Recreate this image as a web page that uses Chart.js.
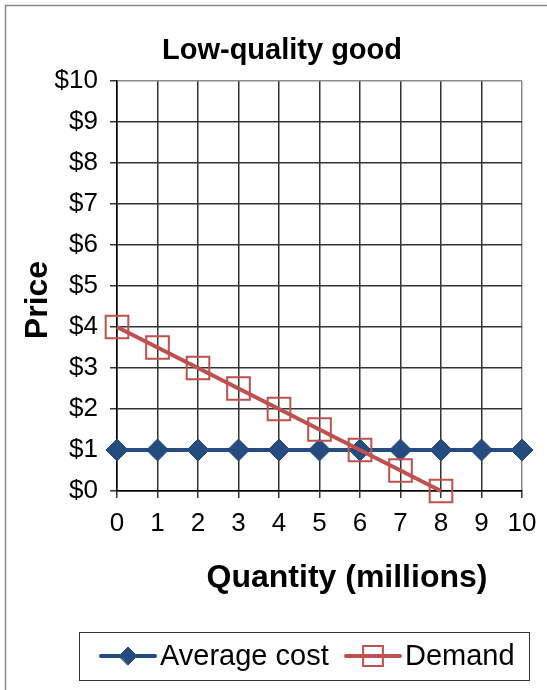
<!DOCTYPE html>
<html>
<head>
<meta charset="utf-8">
<script src="https://cdn.jsdelivr.net/npm/chart.js@4"></script>
<style>
  html, body { margin: 0; padding: 0; background: #fff; }
  canvas { display: block; }
</style>
</head>
<body>
<canvas id="chart" width="547" height="690"></canvas>
<script>
// Low-quality good: average cost vs demand
const quantities = [0, 1, 2, 3, 4, 5, 6, 7, 8, 9, 10];
const averageCost = [1, 1, 1, 1, 1, 1, 1, 1, 1, 1, 1];
const demandQty = [0, 1, 2, 3, 4, 5, 6, 7, 8];
const demandPrice = [4, 3.5, 3, 2.5, 2, 1.5, 1, 0.5, 0];

const BLUE = "#254B7F";
const RED = "#C0504D";
const FONT = "'Liberation Sans', Arial, sans-serif";

Chart.defaults.font.family = FONT;
Chart.defaults.color = "#000";

// titles, outer frame and legend drawn straight on the canvas
const decorations = {
  id: "decorations",
  afterDraw(chart) {
    const c = chart.ctx;
    c.save();
    c.strokeStyle = "#8a8a8a";
    c.lineWidth = 1.5;
    c.strokeRect(5.5, 5.5, 560, 700);

    c.fillStyle = "#000";
    c.textAlign = "center";
    c.textBaseline = "middle";
    c.font = "bold 29px " + FONT;
    c.fillText("Low-quality good", 282, 51);
    c.font = "bold 32px " + FONT;
    c.fillText("Quantity (millions)", 347, 578);
    c.save();
    c.translate(38, 300);
    c.rotate(-Math.PI / 2);
    c.fillText("Price", 0, 0);
    c.restore();

    // legend
    c.strokeStyle = "#333";
    c.lineWidth = 1;
    c.strokeRect(79.5, 632.5, 450, 48);
    c.lineWidth = 4;
    c.lineCap = "round";
    c.strokeStyle = BLUE;
    c.beginPath(); c.moveTo(101, 656); c.lineTo(155, 656); c.stroke();
    c.fillStyle = BLUE;
    c.lineWidth = 1;
    Chart.helpers.drawPoint(c, { pointStyle: "rectRot", radius: 9, borderWidth: 1 }, 128, 656);
    c.lineWidth = 4;
    c.strokeStyle = RED;
    c.beginPath(); c.moveTo(346, 656); c.lineTo(400, 656); c.stroke();
    c.fillStyle = "#fff";
    c.lineWidth = 2;
    Chart.helpers.drawPoint(c, { pointStyle: "rect", radius: 14, borderWidth: 2 }, 373, 656);
    c.lineWidth = 4;
    c.beginPath(); c.moveTo(363, 656); c.lineTo(383, 656); c.stroke();

    c.fillStyle = "#000";
    c.textAlign = "left";
    c.font = "29px " + FONT;
    c.fillText("Average cost", 160, 657);
    c.fillText("Demand", 405, 657);
    c.restore();
  }
};

const gridColor = (ctx) => (ctx.tick && ctx.tick.value === 10 ? "#8a8a8a" : "#333");

new Chart(document.getElementById("chart"), {
  type: "line",
  data: {
    datasets: [
      {
        label: "Average cost",
        data: quantities.map((q, i) => ({ x: q, y: averageCost[i] })),
        borderColor: BLUE,
        backgroundColor: BLUE,
        borderWidth: 4,
        pointStyle: "rectRot",
        pointRadius: 11,
        pointBorderWidth: 1,
        clip: false,
        order: 1,
      },
      {
        label: "Demand",
        data: demandQty.map((q, i) => ({ x: q, y: demandPrice[i] })),
        borderColor: RED,
        backgroundColor: "rgba(0,0,0,0)",
        borderWidth: 4,
        pointStyle: "rect",
        pointRadius: 16,
        pointBorderWidth: 2,
        clip: false,
        order: 0,
      },
    ],
  },
  options: {
    responsive: false,
    animation: false,
    layout: { padding: { top: 81, right: 25, left: 0, bottom: 0 } },
    plugins: {
      legend: { display: false },
      title: { display: false },
      tooltip: { enabled: false },
    },
    scales: {
      x: {
        type: "linear",
        min: 0,
        max: 10,
        afterFit: (s) => { s.height = 199; },
        ticks: { stepSize: 1, font: { size: 26 }, padding: 10, maxRotation: 0 },
        grid: { color: gridColor, lineWidth: 1.5, tickLength: 7, tickColor: "#333" },
        border: { color: "#000", width: 1.5 },
      },
      y: {
        type: "linear",
        min: 0,
        max: 10,
        afterFit: (s) => { s.width = 117; },
        ticks: { stepSize: 1, font: { size: 26 }, padding: 12, callback: (v) => "$" + v },
        grid: { color: gridColor, lineWidth: 1.5, tickLength: 7, tickColor: "#333" },
        border: { color: "#000", width: 1.5 },
      },
    },
  },
  plugins: [decorations],
});
</script>
</body>
</html>
